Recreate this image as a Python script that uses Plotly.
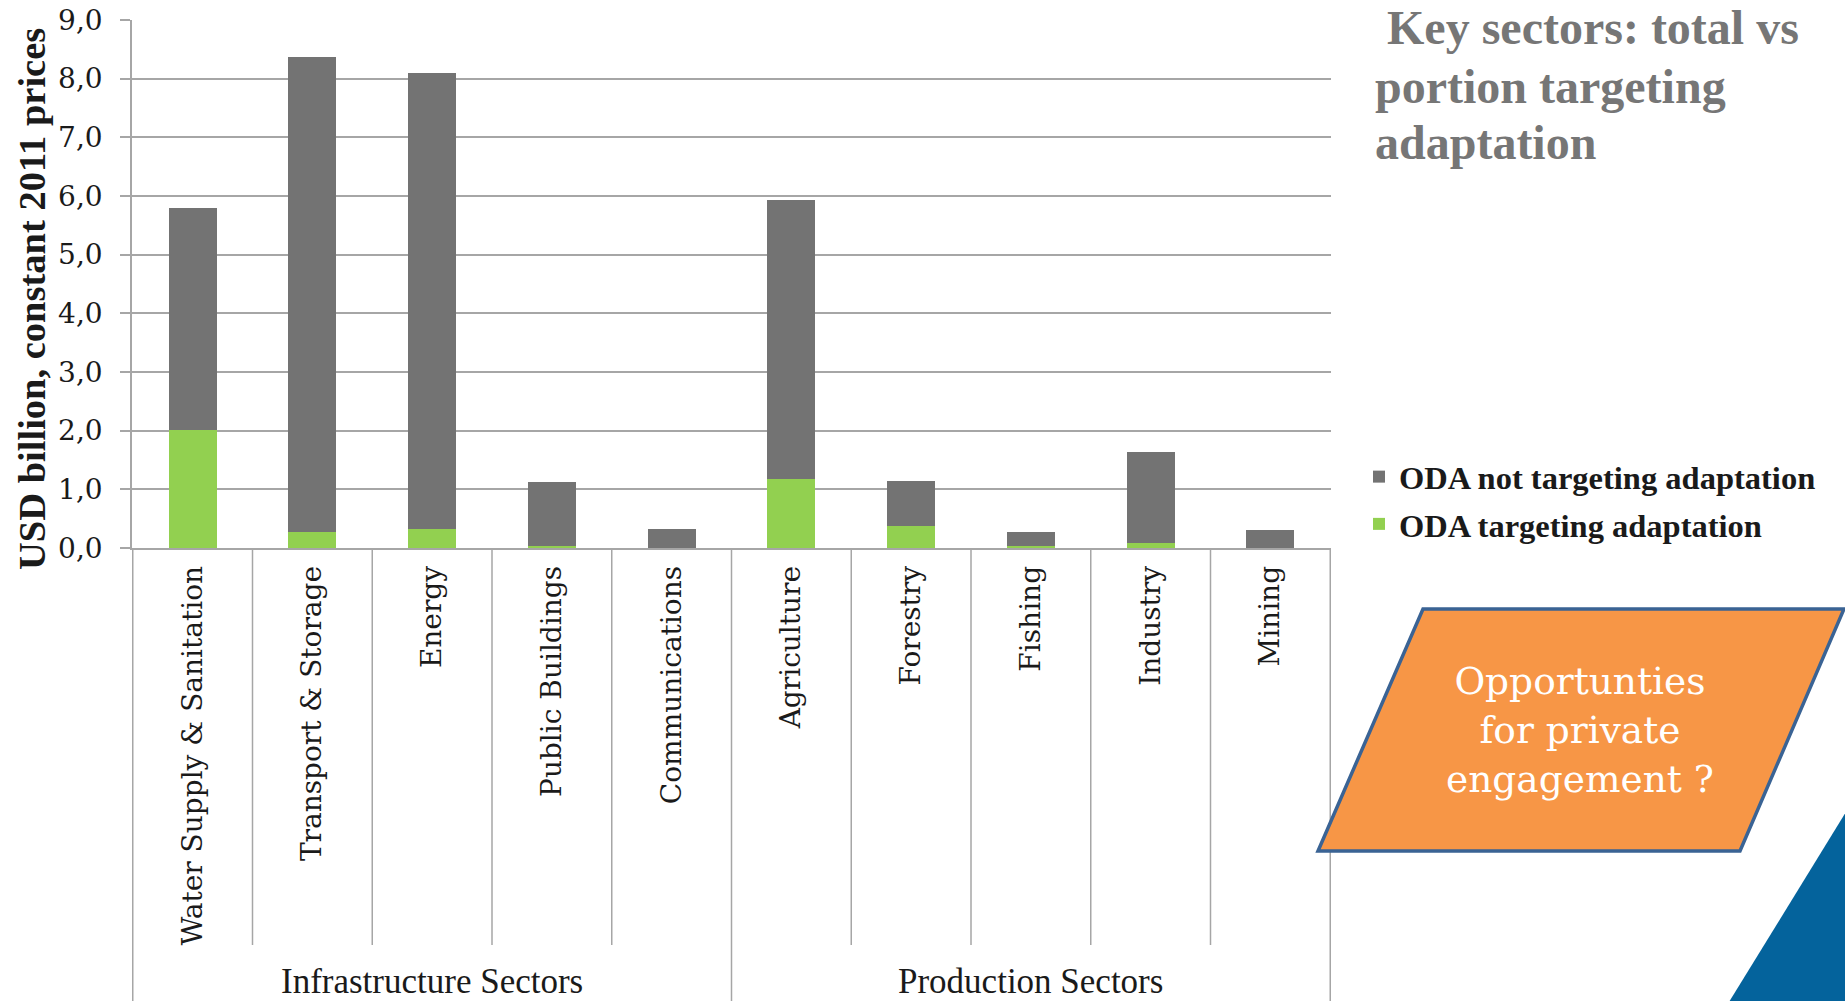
import plotly.graph_objects as go

# ---------------- data ----------------
categories = ["Water Supply & Sanitation", "Transport & Storage", "Energy", "Public Buildings",
              "Communications", "Agriculture", "Forestry", "Fishing", "Industry", "Mining"]
groups = ["Infrastructure Sectors", "Production Sectors"]
group_members = [5, 5]
oda_targeting = [2.01, 0.27, 0.32, 0.03, 0.0, 1.18, 0.38, 0.03, 0.08, 0.0]
oda_not_targeting = [3.79, 8.10, 7.78, 1.09, 0.33, 4.75, 0.76, 0.24, 1.55, 0.30]
y_ticks = [0, 1, 2, 3, 4, 5, 6, 7, 8, 9]
y_title = "USD billion, constant 2011 prices"
title_lines = ["Key sectors: total vs", "portion targeting", "adaptation"]
callout_text = "Opportunties<br>for private<br>engagement ?"

SERIF = "Liberation Serif"
WIDE = "DejaVu Serif"
GRID = "#a6a6a6"
INK = "#1a1a1a"

# page geometry (pixels)
FW, FH = 1845, 1001
L, R, T, B = 132, 1331, 20, 548
PW, PH = R - L, B - T


def px(x):
    return (x - L) / PW


def py(y):
    return (B - y) / PH


fig = go.Figure()
fig.add_trace(go.Bar(x=categories, y=oda_targeting, name="ODA targeting adaptation",
                     legendgroup="a", legendrank=2,
                     marker=dict(color="#92d050", line=dict(width=0))))
fig.add_trace(go.Bar(x=categories, y=oda_not_targeting, name="ODA not targeting adaptation",
                     legendgroup="b", legendrank=1,
                     marker=dict(color="#737373", line=dict(width=0))))

shapes = []
# category dividers below the axis
n = len(categories)
for i in range(n + 1):
    is_group = i in (0, n) or i == group_members[0]
    shapes.append(dict(type="line", xref="x", yref="paper", x0=i - 0.5, x1=i - 0.5,
                       y0=0, y1=py(1010) if is_group else py(945),
                       line=dict(color=GRID, width=1.5), layer="below"))

# orange parallelogram callout
shapes.append(dict(type="path", xref="paper", yref="paper",
                   path=f"M {px(1423)},{py(609)} L {px(1844)},{py(609)} L {px(1740)},{py(851)} L {px(1318)},{py(851)} Z",
                   fillcolor="#f79646", line=dict(color="#3a6394", width=3.5), layer="above"))
# blue corner triangle
shapes.append(dict(type="path", xref="paper", yref="paper",
                   path=f"M {px(1846)},{py(812)} L {px(1846)},{py(1002)} L {px(1729)},{py(1002)} Z",
                   fillcolor="#04639c", line=dict(width=0), layer="above"))

annotations = []
start = 0
for g, m in zip(groups, group_members):
    annotations.append(dict(text=g, xref="x", yref="paper", x=start + (m - 1) / 2, y=py(981),
                            showarrow=False, font=dict(family=SERIF, size=35, color=INK),
                            xanchor="center", yanchor="middle"))
    start += m

# y axis title (placed as rotated text, like the original slide)
annotations.append(dict(text=y_title, xref="paper", yref="paper", x=px(32), y=py(299),
                        textangle=-90, showarrow=False, xanchor="center", yanchor="middle",
                        font=dict(family=SERIF, size=38.5, color=INK, weight="bold")))

title_x = [1385, 1373, 1373]
title_y = [28, 86, 142]
for txt, tx, ty in zip(title_lines, title_x, title_y):
    annotations.append(dict(text=txt, xref="paper", yref="paper", x=px(tx), y=py(ty),
                            xanchor="left", yanchor="middle", align="left", showarrow=False,
                            font=dict(family=SERIF, size=48, color="#767676", weight="bold")))

annotations.append(dict(text=callout_text,
                        xref="paper", yref="paper", x=px(1580), y=py(730), xanchor="center", yanchor="middle",
                        align="center", showarrow=False,
                        font=dict(family=WIDE, size=37.5, color="white")))

fig.update_layout(
    width=FW, height=FH,
    margin=dict(l=L, r=FW - R, t=T, b=FH - B, autoexpand=False),
    paper_bgcolor="white", plot_bgcolor="white",
    barmode="stack", bargap=0.6,
    separators=",.",
    font=dict(family=SERIF, color=INK),
    shapes=shapes, annotations=annotations,
    legend=dict(x=px(1359), y=py(449), xanchor="left", yanchor="top",
                font=dict(family=SERIF, size=32.5, color=INK, weight="bold"),
                traceorder="grouped", bgcolor="rgba(0,0,0,0)", tracegroupgap=2),
    xaxis=dict(type="category", showgrid=False, ticks="", tickangle=-90, automargin=False,
               tickfont=dict(family=WIDE, size=28, color=INK),
               showline=True, linecolor=GRID, linewidth=1.5, ticklabelstandoff=5),
    yaxis=dict(range=[0, 9], tickvals=y_ticks, tickformat=".1f", showgrid=True, gridcolor=GRID,
               gridwidth=1.5, zeroline=False, showline=True, linecolor=GRID, linewidth=1.5,
               ticks="outside", ticklen=10, tickcolor=GRID, tickwidth=1.5, automargin=False,
               tickfont=dict(family=WIDE, size=28, color=INK), ticklabelstandoff=12),
)

fig.write_html("out.html")
